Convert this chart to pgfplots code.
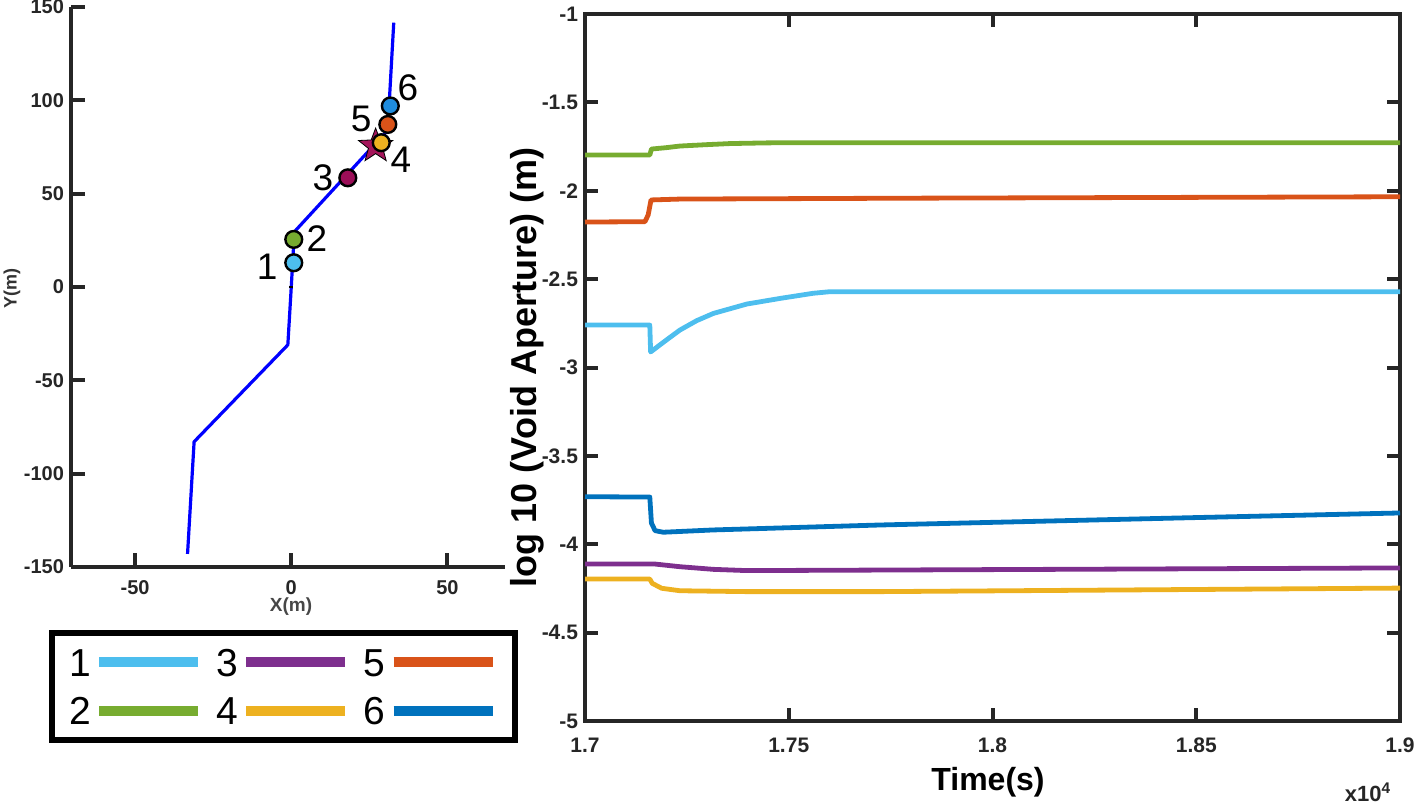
\documentclass[border=0pt]{standalone}
\usepackage{fontspec}
\setmainfont{Liberation Sans}
\usepackage{pgfplots}
\pgfplotsset{compat=1.18}
\definecolor{axgray}{HTML}{262626}
\definecolor{cA}{HTML}{4DBEEE}
\definecolor{cB}{HTML}{77AC30}
\definecolor{cC}{HTML}{7E2F8E}
\definecolor{cD}{HTML}{EDB120}
\definecolor{cE}{HTML}{D95319}
\definecolor{cF}{HTML}{0072BD}
\definecolor{mC}{HTML}{9B0E58}
\definecolor{mF}{HTML}{1F8CDD}
\definecolor{starc}{HTML}{A4155A}
\pgfdeclareplotmark{fstar}{%
  \pgfpathmoveto{\pgfpointpolar{90}{\pgfplotmarksize}}%
  \pgfpathlineto{\pgfpointpolar{126}{0.42\pgfplotmarksize}}%
  \pgfpathlineto{\pgfpointpolar{162}{\pgfplotmarksize}}%
  \pgfpathlineto{\pgfpointpolar{198}{0.42\pgfplotmarksize}}%
  \pgfpathlineto{\pgfpointpolar{234}{\pgfplotmarksize}}%
  \pgfpathlineto{\pgfpointpolar{270}{0.42\pgfplotmarksize}}%
  \pgfpathlineto{\pgfpointpolar{306}{\pgfplotmarksize}}%
  \pgfpathlineto{\pgfpointpolar{342}{0.42\pgfplotmarksize}}%
  \pgfpathlineto{\pgfpointpolar{18}{\pgfplotmarksize}}%
  \pgfpathlineto{\pgfpointpolar{54}{0.42\pgfplotmarksize}}%
  \pgfpathclose
  \pgfusepathqfillstroke}
\begin{document}
\begin{tikzpicture}
\path[use as bounding box] (0pt,0pt) rectangle (709pt,-401.5pt);
% ---------------- left: well path ----------------
\begin{axis}[
  at={(35.5pt,-283.5pt)}, anchor=south west,
  scale only axis, width=217pt, height=280pt,
  xmin=-70.5, xmax=68.4, ymin=-150, ymax=150,
  axis x line*=bottom, axis y line*=left,
  axis line style={line width=2pt, axgray},
  tick align=inside, major tick length=7pt,
  tick style={line width=2pt, axgray},
  xtick={-50,0,50}, xticklabels={-50,0,50},
  ytick={-150,-100,-50,0,50,100,150},
  yticklabels={-150,-100,-50,0,50,100,150},
  ticklabel style={font=\bfseries\fontsize{10}{12}\selectfont, text=axgray},
  xticklabel style={yshift=-3pt},
  xlabel={X(m)}, ylabel={Y(m)},
  xlabel style={at={(axis description cs:0.507,-0.0714)}, anchor=center,
    font=\bfseries\fontsize{9.5}{11}\selectfont, text=black!72},
  ylabel style={at={(axis description cs:-0.136,0.498)}, anchor=center,
    font=\bfseries\fontsize{9}{10}\selectfont, text=black!80},
  clip=false,
  legend columns=3,
  legend plot pos=right,
  legend image code/.code={\draw[#1, line width=5pt] (0pt,0pt) -- (49.5pt,0pt);},
  legend style={at={(0.4896,-0.2134)}, anchor=center, draw=black, line width=3pt,
    font=\fontsize{19.5}{20}\selectfont, inner xsep=8.5pt, inner ysep=7.7pt,
    nodes={inner sep=0pt, text height=14pt, text depth=0pt},
    column sep=1.6pt, row sep=10.15pt,
    /tikz/every even column/.append style={column sep=6.6pt}},
]
\addlegendimage{cA}\addlegendentry{1}
\addlegendimage{cC}\addlegendentry{3}
\addlegendimage{cE}\addlegendentry{5}
\addlegendimage{cB}\addlegendentry{2}
\addlegendimage{cD}\addlegendentry{4}
\addlegendimage{cF}\addlegendentry{6}
\addplot[forget plot, blue, line width=1.6pt, line join=round] coordinates {
 (-33.2,-143) (-31.1,-82.9) (-1.1,-31) (0,0) (1.0,29.6) (30.9,84) (31.4,100) (32.8,141.6)};
\addplot[forget plot, black, line width=1.2pt] coordinates {(-0.7,0) (0.7,0)};
\addplot[forget plot, only marks, mark=fstar, mark size=9pt, mark options={fill=starc, draw=black, line width=0.4pt}] coordinates {(27.0,75.5)};
\addplot[forget plot, only marks, mark=*, mark size=4.2pt, mark options={fill=cA, draw=black, line width=1.2pt}] coordinates {(0.8,13)};
\addplot[forget plot, only marks, mark=*, mark size=4.2pt, mark options={fill=cB, draw=black, line width=1.2pt}] coordinates {(0.8,25.5)};
\addplot[forget plot, only marks, mark=*, mark size=4.2pt, mark options={fill=mC, draw=black, line width=1.2pt}] coordinates {(18.1,58.5)};
\addplot[forget plot, only marks, mark=*, mark size=4.2pt, mark options={fill=cD, draw=black, line width=1.2pt}] coordinates {(28.8,77.3)};
\addplot[forget plot, only marks, mark=*, mark size=4.2pt, mark options={fill=cE, draw=black, line width=1.2pt}] coordinates {(30.9,87.1)};
\addplot[forget plot, only marks, mark=*, mark size=4.2pt, mark options={fill=mF, draw=black, line width=1.2pt}] coordinates {(31.7,97)};
\begin{scope}[every node/.style={font=\fontsize{18.5}{19}\selectfont}]
\node at (axis cs:-7.7,10.9) {1};
\node at (axis cs:8.2,26) {2};
\node at (axis cs:10.1,58.5) {3};
\node at (axis cs:35.1,68.4) {4};
\node at (axis cs:22.4,90) {5};
\node at (axis cs:37.3,107) {6};
\end{scope}
\end{axis}
% ---------------- right: apertures ----------------
\begin{axis}[
  at={(292.5pt,-360.5pt)}, anchor=south west,
  scale only axis, width=407.5pt, height=353.5pt,
  xmin=1.7, xmax=1.9, ymin=-5, ymax=-1,
  axis line style={line width=2pt, axgray},
  tick align=inside, major tick length=6.5pt,
  tick style={line width=2pt, axgray},
  xtick={1.7,1.75,1.8,1.85,1.9}, xticklabels={1.7,1.75,1.8,1.85,1.9},
  ytick={-5,-4.5,-4,-3.5,-3,-2.5,-2,-1.5,-1},
  yticklabels={-5,-4.5,-4,-3.5,-3,-2.5,-2,-1.5,-1},
  ticklabel style={font=\bfseries\fontsize{10.5}{12}\selectfont, text=axgray},
  xticklabel style={yshift=-5pt},
  xlabel={Time(s)}, ylabel={log 10 (Void Aperture) (m)},
  xlabel style={at={(axis description cs:0.4945,-0.0863)}, anchor=center,
    font=\bfseries\fontsize{16}{18}\selectfont},
  ylabel style={at={(axis description cs:-0.0712,0.5)}, anchor=center,
    font=\bfseries\fontsize{18}{20}\selectfont},
  clip=false,
  every axis plot/.append style={line width=2.4pt, line join=round},
]
\addplot[cA] coordinates {(1.7,-2.760) (1.7159,-2.760) (1.7161,-2.912) (1.7200,-2.844) (1.7233,-2.788) (1.7274,-2.735) (1.7315,-2.694) (1.7397,-2.641) (1.7479,-2.609) (1.7560,-2.580) (1.7601,-2.571) (1.9,-2.571)};
\addplot[cB] coordinates {(1.7,-1.798) (1.7159,-1.798) (1.7163,-1.764) (1.7200,-1.756) (1.7233,-1.747) (1.7300,-1.739) (1.7356,-1.733) (1.7450,-1.729) (1.76,-1.728) (1.9,-1.728)};
\addplot[cC] coordinates {(1.7,-4.112) (1.7172,-4.112) (1.7233,-4.127) (1.7315,-4.142) (1.7397,-4.149) (1.7724,-4.146) (1.9,-4.134)};
\addplot[cD] coordinates {(1.7,-4.197) (1.7159,-4.197) (1.7165,-4.221) (1.7188,-4.249) (1.7233,-4.263) (1.7397,-4.268) (1.7724,-4.268) (1.9,-4.248)};
\addplot[cE] coordinates {(1.7,-2.177) (1.7147,-2.175) (1.7155,-2.137) (1.7162,-2.052) (1.7233,-2.047) (1.78,-2.042) (1.9,-2.034)};
\addplot[cF] coordinates {(1.7,-3.731) (1.7159,-3.733) (1.7163,-3.880) (1.7172,-3.923) (1.7192,-3.932) (1.7315,-3.919) (1.7724,-3.891) (1.85,-3.849) (1.9,-3.823)};
\node[font=\bfseries\fontsize{11}{12}\selectfont, text=axgray] at (rel axis cs:0.9607,-0.1004) {x10\textsuperscript{4}};
\end{axis}
\end{tikzpicture}
\end{document}
